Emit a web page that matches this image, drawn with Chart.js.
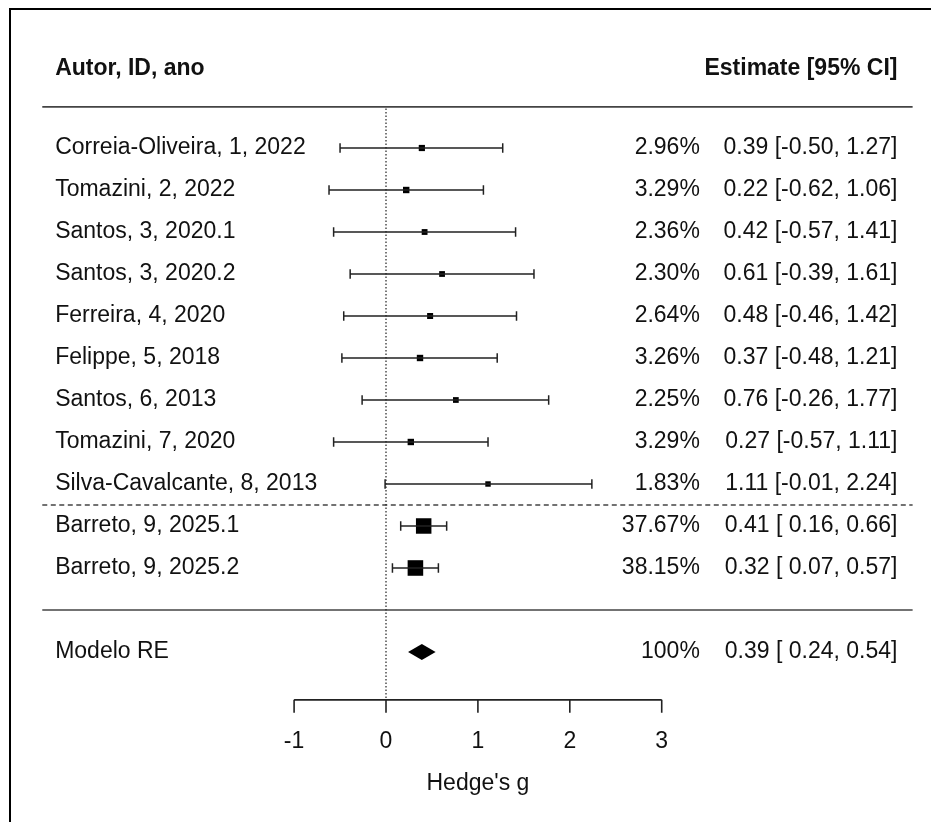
<!DOCTYPE html>
<html>
<head>
<meta charset="utf-8">
<script src="https://cdn.jsdelivr.net/npm/chart.js@4.4.1/dist/chart.umd.min.js"></script>
<style>
  html, body { margin: 0; padding: 0; background: #ffffff; }
  #wrap { width: 931px; height: 822px; }
</style>
</head>
<body>
<div id="wrap"><canvas id="forest" width="931" height="822"></canvas></div>
<script>
const studies = [
    "Correia-Oliveira, 1, 2022",
    "Tomazini, 2, 2022",
    "Santos, 3, 2020.1",
    "Santos, 3, 2020.2",
    "Ferreira, 4, 2020",
    "Felippe, 5, 2018",
    "Santos, 6, 2013",
    "Tomazini, 7, 2020",
    "Silva-Cavalcante, 8, 2013",
    "Barreto, 9, 2025.1",
    "Barreto, 9, 2025.2"
];
const estimates = [0.39, 0.22, 0.42, 0.61, 0.48, 0.37, 0.76, 0.27, 1.11, 0.41, 0.32];
const ciLower   = [-0.50, -0.62, -0.57, -0.39, -0.46, -0.48, -0.26, -0.57, -0.01, 0.16, 0.07];
const ciUpper   = [1.27, 1.06, 1.41, 1.61, 1.42, 1.21, 1.77, 1.11, 2.24, 0.66, 0.57];
const weights   = [2.96, 3.29, 2.36, 2.30, 2.64, 3.26, 2.25, 3.29, 1.83, 37.67, 38.15];

const pooledLabel = "Modelo RE";
const pooled = { est: 0.39, lo: 0.24, hi: 0.54, weight: "100%" };

const xTicks = [-1, 0, 1, 2, 3];
const xTitle = "Hedge's g";
const headLeft = "Autor, ID, ano";
const headRight = "Estimate [95% CI]";

// row index of each study (1..n), pooled row sits after a blank row
const rows = studies.map((_, i) => i + 1);
const pooledRow = studies.length + 2;

const FONT = '"Liberation Sans", Arial, sans-serif';
const INK = "#111111";

// lower bound gets a leading space when positive, like R's formatC
function estText(e, lo, hi) {
    const l = lo < 0 ? lo.toFixed(2) : " " + lo.toFixed(2);
    return e.toFixed(2) + " [" + l + ", " + hi.toFixed(2) + "]";
}

// square side grows with sqrt of weight
const markerRadius = weights.map(w => (2.6 + 2.1 * Math.sqrt(w)) / Math.SQRT2);

const forestPlugin = {
    id: "forestLayout",
    afterDraw(chart) {
        const { ctx } = chart;
        const xs = chart.scales.x;
        const ys = chart.scales.y;
        const X = v => xs.getPixelForValue(v);
        const Y = v => ys.getPixelForValue(v);

        const left = X(-3.74), right = X(5.73);
        const labelX = X(-3.60), pctX = X(3.415), estX = X(5.565);

        ctx.save();

        // frame (left + top edge)
        ctx.strokeStyle = "#000";
        ctx.lineWidth = 2;
        ctx.beginPath();
        ctx.moveTo(10, 822);
        ctx.lineTo(10, 9);
        ctx.lineTo(931, 9);
        ctx.stroke();

        // header
        ctx.fillStyle = INK;
        ctx.font = "bold 23px " + FONT;
        ctx.textBaseline = "middle";
        ctx.textAlign = "left";
        ctx.fillText(headLeft, labelX, Y(-0.9));
        ctx.textAlign = "right";
        ctx.fillText(headRight, estX, Y(-0.9));

        // solid separators
        ctx.strokeStyle = "#444";
        ctx.lineWidth = 1.7;
        [0.02, 12].forEach(r => {
            ctx.beginPath();
            ctx.moveTo(left, Y(r));
            ctx.lineTo(right, Y(r));
            ctx.stroke();
        });

        // dashed separator between groups
        ctx.setLineDash([5, 3.5]);
        ctx.lineWidth = 1.3;
        ctx.beginPath();
        ctx.moveTo(left, Y(9.5));
        ctx.lineTo(right, Y(9.5));
        ctx.stroke();

        // reference line at zero
        ctx.setLineDash([1.5, 2]);
        ctx.strokeStyle = "#222";
        ctx.lineWidth = 1.2;
        ctx.beginPath();
        ctx.moveTo(X(0), Y(0.06));
        ctx.lineTo(X(0), Y(14.14));
        ctx.stroke();
        ctx.setLineDash([]);

        // confidence intervals
        ctx.strokeStyle = "#222";
        ctx.lineWidth = 1.5;
        rows.forEach((r, i) => {
            const y = Y(r), x0 = X(ciLower[i]), x1 = X(ciUpper[i]);
            ctx.beginPath();
            ctx.moveTo(x0, y); ctx.lineTo(x1, y);
            ctx.moveTo(x0, y - 4.7); ctx.lineTo(x0, y + 4.7);
            ctx.moveTo(x1, y - 4.7); ctx.lineTo(x1, y + 4.7);
            ctx.stroke();
        });

        // pooled diamond
        const py = Y(pooledRow);
        ctx.fillStyle = "#000";
        ctx.beginPath();
        ctx.moveTo(X(pooled.lo), py);
        ctx.lineTo(X(pooled.est), py - 8);
        ctx.lineTo(X(pooled.hi), py);
        ctx.lineTo(X(pooled.est), py + 8);
        ctx.closePath();
        ctx.fill();

        // row texts
        ctx.fillStyle = INK;
        ctx.font = "23px " + FONT;
        rows.forEach((r, i) => {
            const y = Y(r);
            ctx.textAlign = "left";
            ctx.fillText(studies[i], labelX, y);
            ctx.textAlign = "right";
            ctx.fillText(weights[i].toFixed(2) + "%", pctX, y);
            ctx.fillText(estText(estimates[i], ciLower[i], ciUpper[i]), estX, y);
        });
        ctx.textAlign = "left";
        ctx.fillText(pooledLabel, labelX, py);
        ctx.textAlign = "right";
        ctx.fillText(pooled.weight, pctX, py);
        ctx.fillText(estText(pooled.est, pooled.lo, pooled.hi), estX, py);

        // bottom axis
        const ay = Y(14.14);
        ctx.strokeStyle = "#222";
        ctx.lineWidth = 1.6;
        ctx.beginPath();
        ctx.moveTo(X(xTicks[0]), ay);
        ctx.lineTo(X(xTicks[xTicks.length - 1]), ay);
        xTicks.forEach(t => {
            ctx.moveTo(X(t), ay);
            ctx.lineTo(X(t), ay + 13);
        });
        ctx.stroke();

        ctx.textAlign = "center";
        xTicks.forEach(t => ctx.fillText(String(t), X(t), Y(15.14)));
        ctx.fillText(xTitle, X(1), Y(16.14));

        ctx.restore();
    }
};

new Chart(document.getElementById("forest"), {
    type: "scatter",
    data: {
        datasets: [{
            data: estimates.map((e, i) => ({ x: e, y: rows[i] })),
            pointStyle: "rect",
            pointRadius: markerRadius,
            pointHoverRadius: markerRadius,
            backgroundColor: "#000",
            borderColor: "#000",
            borderWidth: 0
        }]
    },
    options: {
        responsive: false,
        animation: false,
        layout: { padding: 0, autoPadding: false },
        plugins: {
            legend: { display: false },
            tooltip: { enabled: false }
        },
        scales: {
            x: { type: "linear", min: -4.2, max: 5.93, display: false },
            y: { type: "linear", min: -2.524, max: 17.048, reverse: true, display: false }
        }
    },
    plugins: [forestPlugin]
});
</script>
</body>
</html>
